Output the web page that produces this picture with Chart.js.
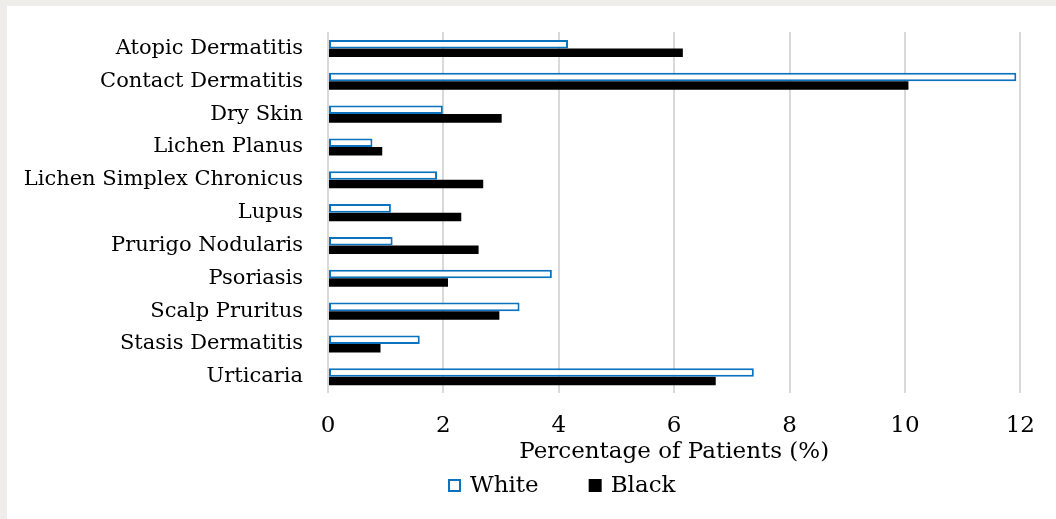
<!DOCTYPE html>
<html lang="en">

<head>
    <meta charset="UTF-8">
    <title>Percentage of Patients</title>
    <style>
        html, body {
            margin: 0;
            padding: 0;
            background: #eeede9;
            overflow: hidden;
        }

        #chart-container {
            position: absolute;
            left: 7px;
            top: 6px;
            width: 1049px;
            height: 513px;
            background: #ffffff;
        }
    </style>
</head>

<body>
    <div id="chart-container">
        <canvas id="chart"></canvas>
    </div>

    <script src="https://cdn.jsdelivr.net/npm/chart.js"></script>
    <script>
        // Daten
        var categories = ['Atopic Dermatitis', 'Contact Dermatitis', 'Dry Skin', 'Lichen Planus',
            'Lichen Simplex Chronicus', 'Lupus', 'Prurigo Nodularis', 'Psoriasis',
            'Scalp Pruritus', 'Stasis Dermatitis', 'Urticaria'];
        var whiteValues = [4.16, 11.93, 1.99, 0.77, 1.89, 1.09, 1.12, 3.88, 3.32, 1.59, 7.38];
        var blackValues = [6.15, 10.06, 3.01, 0.94, 2.69, 2.31, 2.61, 2.08, 2.97, 0.91, 6.72];
        var xTicks = [0, 2, 4, 6, 8, 10, 12];

        var serif = "'DejaVu Serif', serif";

        // Legende unten, selbst gezeichnet
        var bottomLegend = {
            id: 'bottomLegend',
            afterDraw: function (chart) {
                var ctx = chart.ctx;
                var x = chart.chartArea.left + 120;
                var y = 473;
                var size = 13;
                ctx.save();
                ctx.font = '23px ' + serif;
                ctx.textBaseline = 'middle';
                ctx.textAlign = 'left';
                chart.data.datasets.forEach(function (ds) {
                    if (ds.label === 'White') {
                        ctx.fillStyle = '#ffffff';
                        ctx.fillRect(x, y, size, size);
                        ctx.strokeStyle = ds.borderColor;
                        ctx.lineWidth = 2;
                        ctx.strokeRect(x + 1, y + 1, size - 2, size - 2);
                    } else {
                        ctx.fillStyle = ds.backgroundColor;
                        ctx.fillRect(x, y, size, size);
                    }
                    ctx.fillStyle = '#000000';
                    ctx.fillText(ds.label, x + size + 9, y + size / 2 + 1);
                    x += size + 9 + ctx.measureText(ds.label).width + 50;
                });
                ctx.restore();
            }
        };

        var ctx = document.getElementById('chart').getContext('2d');
        var chart = new Chart(ctx, {
            type: 'bar',
            data: {
                labels: categories,
                datasets: [{
                    label: 'White',
                    data: whiteValues,
                    backgroundColor: '#ffffff',
                    borderColor: '#0b72be',
                    borderWidth: 2,
                    borderSkipped: false
                }, {
                    label: 'Black',
                    data: blackValues,
                    backgroundColor: '#000000',
                    borderWidth: 0
                }]
            },
            options: {
                indexAxis: 'y',
                responsive: true,
                maintainAspectRatio: false,
                animation: false,
                categoryPercentage: 0.52,
                barPercentage: 1.0,
                layout: {
                    padding: { left: 0, right: 35, top: 26, bottom: 53 }
                },
                plugins: {
                    legend: { display: false },
                    tooltip: { enabled: false }
                },
                scales: {
                    x: {
                        min: 0,
                        max: 12,
                        afterBuildTicks: function (scale) {
                            scale.ticks = xTicks.map(function (v) { return { value: v }; });
                        },
                        grid: {
                            color: '#d9d9d9',
                            lineWidth: 2,
                            drawTicks: false
                        },
                        border: { display: false },
                        ticks: {
                            color: '#000000',
                            padding: 21,
                            font: { family: serif, size: 23, lineHeight: 1.05 }
                        },
                        title: {
                            display: true,
                            text: 'Percentage of Patients (%)',
                            color: '#000000',
                            padding: { top: -21, bottom: 0 },
                            font: { family: serif, size: 23 }
                        }
                    },
                    y: {
                        afterFit: function (scale) {
                            scale.width = 321;
                        },
                        grid: { display: false, drawTicks: false },
                        border: { display: false },
                        ticks: {
                            color: '#000000',
                            padding: 25,
                            autoSkip: false,
                            // kleine Zeilenhöhe, damit oben kein Extra-Rand entsteht
                            font: { family: serif, size: 21, lineHeight: 0.05 }
                        }
                    }
                }
            },
            plugins: [bottomLegend]
        });
    </script>
</body>

</html>
